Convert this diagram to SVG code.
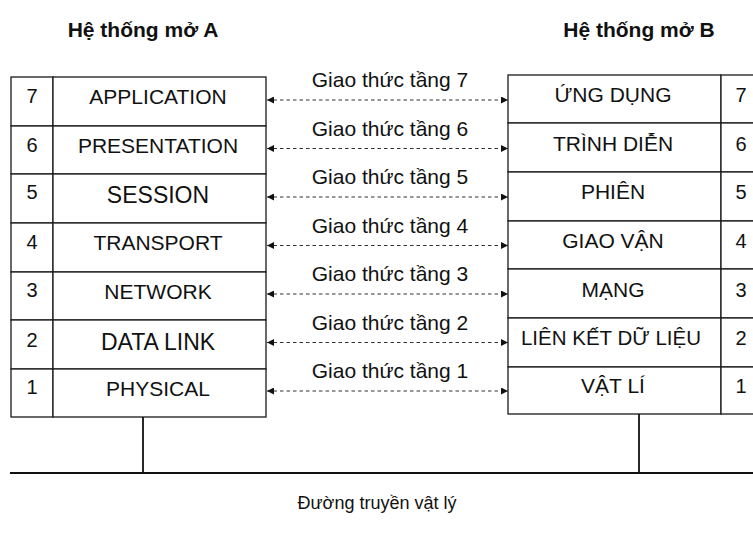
<svg xmlns="http://www.w3.org/2000/svg" width="753" height="534" viewBox="0 0 753 534">
  <defs>
    <style>
      .cell { fill: #ffffff; stroke: #1a1a1a; stroke-width: 1.3; }
      .txt { font-family: "Liberation Sans", Arial, sans-serif; fill: #111111; text-anchor: middle; }
      .lbl { font-size: 21px; }
      .big { font-size: 23px; }
      .num { font-size: 20px; }
      .head { font-size: 21px; font-weight: bold; }
      .proto { font-size: 21px; }
      .link { fill: none; stroke: #333333; stroke-width: 1.1; stroke-dasharray: 3.5 3; }
      .wire { fill: none; stroke: #111111; stroke-width: 1.8; }
    </style>
    <marker id="tip" viewBox="0 0 10 10" refX="10" refY="5" markerWidth="8" markerHeight="7" markerUnits="userSpaceOnUse" orient="auto-start-reverse">
      <path d="M0,0 L10,5 L0,10 z" fill="#111111"/>
    </marker>
  </defs>

  <rect width="753" height="534" fill="#ffffff"/>

  <!-- system titles -->
  <g id="title-a"><text class="txt head" x="143" y="37">Hệ thống mở A</text></g>
  <g id="title-b"><text class="txt head" x="639" y="37">Hệ thống mở B</text></g>

  <!-- open system A: seven layers -->
  <g id="a7"><rect class="cell" x="11" y="77" width="42" height="49"/><rect class="cell" x="53" y="77" width="213" height="49"/>
    <text class="txt num" x="32" y="103">7</text><text class="txt lbl" x="158" y="104">APPLICATION</text></g>
  <g id="a6"><rect class="cell" x="11" y="126" width="42" height="48"/><rect class="cell" x="53" y="126" width="213" height="48"/>
    <text class="txt num" x="32" y="152">6</text><text class="txt lbl" x="158" y="153">PRESENTATION</text></g>
  <g id="a5"><rect class="cell" x="11" y="174" width="42" height="49"/><rect class="cell" x="53" y="174" width="213" height="49"/>
    <text class="txt num" x="32" y="199">5</text><text class="txt big" x="158" y="203">SESSION</text></g>
  <g id="a4"><rect class="cell" x="11" y="223" width="42" height="49"/><rect class="cell" x="53" y="223" width="213" height="49"/>
    <text class="txt num" x="32" y="249">4</text><text class="txt lbl" x="158" y="250">TRANSPORT</text></g>
  <g id="a3"><rect class="cell" x="11" y="272" width="42" height="48"/><rect class="cell" x="53" y="272" width="213" height="48"/>
    <text class="txt num" x="32" y="297">3</text><text class="txt lbl" x="158" y="299">NETWORK</text></g>
  <g id="a2"><rect class="cell" x="11" y="320" width="42" height="49"/><rect class="cell" x="53" y="320" width="213" height="49"/>
    <text class="txt num" x="32" y="347">2</text><text class="txt big" x="158" y="350">DATA LINK</text></g>
  <g id="a1"><rect class="cell" x="11" y="369" width="42" height="48"/><rect class="cell" x="53" y="369" width="213" height="48"/>
    <text class="txt num" x="32" y="394">1</text><text class="txt lbl" x="158" y="396">PHYSICAL</text></g>

  <!-- open system B: seven layers -->
  <g id="b7"><rect class="cell" x="508" y="75" width="213" height="48"/><rect class="cell" x="721" y="75" width="40" height="48"/>
    <text class="txt lbl" x="613" y="102">ỨNG DỤNG</text><text class="txt num" x="741" y="102">7</text></g>
  <g id="b6"><rect class="cell" x="508" y="123" width="213" height="49"/><rect class="cell" x="721" y="123" width="40" height="49"/>
    <text class="txt lbl" x="613" y="151">TRÌNH DIỄN</text><text class="txt num" x="741" y="151">6</text></g>
  <g id="b5"><rect class="cell" x="508" y="172" width="213" height="49"/><rect class="cell" x="721" y="172" width="40" height="49"/>
    <text class="txt lbl" x="613" y="199">PHIÊN</text><text class="txt num" x="741" y="199">5</text></g>
  <g id="b4"><rect class="cell" x="508" y="221" width="213" height="48"/><rect class="cell" x="721" y="221" width="40" height="48"/>
    <text class="txt lbl" x="613" y="248">GIAO VẬN</text><text class="txt num" x="741" y="248">4</text></g>
  <g id="b3"><rect class="cell" x="508" y="269" width="213" height="49"/><rect class="cell" x="721" y="269" width="40" height="49"/>
    <text class="txt lbl" x="613" y="297">MẠNG</text><text class="txt num" x="741" y="297">3</text></g>
  <g id="b2"><rect class="cell" x="508" y="318" width="213" height="49"/><rect class="cell" x="721" y="318" width="40" height="49"/>
    <text class="txt lbl" x="611" y="345" style="font-size:20.5px">LIÊN KẾT DỮ LIỆU</text><text class="txt num" x="741" y="345">2</text></g>
  <g id="b1"><rect class="cell" x="508" y="367" width="213" height="47"/><rect class="cell" x="721" y="367" width="40" height="47"/>
    <text class="txt lbl" x="613" y="393">VẬT LÍ</text><text class="txt num" x="741" y="393">1</text></g>

  <!-- peer protocols between matching layers -->
  <g id="connectors">
    <path class="link" d="M267,100 H508" marker-start="url(#tip)" marker-end="url(#tip)"/>
    <path class="link" d="M267,148.5 H508" marker-start="url(#tip)" marker-end="url(#tip)"/>
    <path class="link" d="M267,197 H508" marker-start="url(#tip)" marker-end="url(#tip)"/>
    <path class="link" d="M267,245.5 H508" marker-start="url(#tip)" marker-end="url(#tip)"/>
    <path class="link" d="M267,294 H508" marker-start="url(#tip)" marker-end="url(#tip)"/>
    <path class="link" d="M267,342.5 H508" marker-start="url(#tip)" marker-end="url(#tip)"/>
    <path class="link" d="M267,391 H508" marker-start="url(#tip)" marker-end="url(#tip)"/>
    <text class="txt proto" x="390" y="87">Giao thức tầng 7</text>
    <text class="txt proto" x="390" y="135.5">Giao thức tầng 6</text>
    <text class="txt proto" x="390" y="184">Giao thức tầng 5</text>
    <text class="txt proto" x="390" y="232.5">Giao thức tầng 4</text>
    <text class="txt proto" x="390" y="281">Giao thức tầng 3</text>
    <text class="txt proto" x="390" y="329.5">Giao thức tầng 2</text>
    <text class="txt proto" x="390" y="378">Giao thức tầng 1</text>
    <!-- drops to the physical medium -->
    <path class="wire" d="M143,417 V473"/>
    <path class="wire" d="M639,414 V472"/>
  </g>

  <!-- physical medium -->
  <g id="medium">
    <path d="M10,473 H753" fill="none" stroke="#111111" stroke-width="2.2"/>
    <text class="txt" x="377" y="509" style="font-size:18px">Đường truyền vật lý</text>
  </g>
</svg>
